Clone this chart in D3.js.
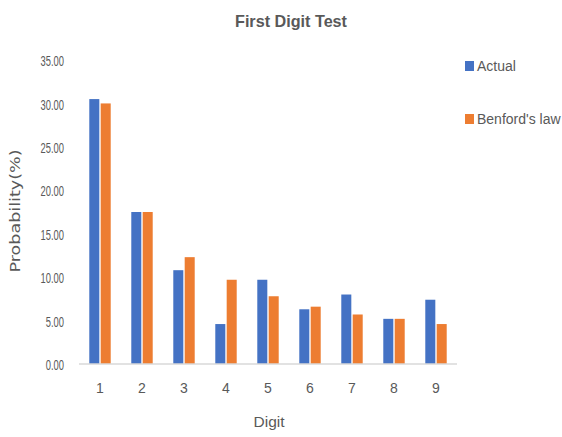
<!DOCTYPE html>
<html>
<head>
<meta charset="utf-8">
<script src="https://cdn.jsdelivr.net/npm/d3@7"></script>
<style>
  html, body { margin: 0; padding: 0; background: #fff; }
  svg { display: block; }
</style>
</head>
<body>
<svg id="chart" width="562" height="437"></svg>
<script>
const digits = ["1", "2", "3", "4", "5", "6", "7", "8", "9"];
const actual = [30.5, 17.5, 10.8, 4.6, 9.7, 6.3, 8.0, 5.2, 7.4];
const benford = [30.0, 17.5, 12.3, 9.7, 7.8, 6.6, 5.7, 5.2, 4.6];
const seriesNames = ["Actual", "Benford's law"];
const seriesColors = ["#4472C4", "#ED7D31"];
const yTicks = [0, 5, 10, 15, 20, 25, 30, 35];

const svg = d3.select("#chart");
const font = "'Liberation Sans Narrow', 'Liberation Sans', Arial, sans-serif";
const textColor = "#595959";

const margin = { left: 79, right: 105, top: 60, bottom: 73 };
const W = 562, H = 437;
const x0 = d3.scaleBand().domain(digits).range([margin.left, W - margin.right]).paddingInner(0.49).paddingOuter(0.245);
const x1 = d3.scaleBand().domain(seriesNames).range([0, x0.bandwidth()]).paddingInner(0.12);
const y = d3.scaleLinear().domain([0, 35]).range([H - margin.bottom, margin.top]);

// Bars
const data = digits.map((d, i) => ({ digit: d, values: [actual[i], benford[i]] }));
const groups = svg.append("g").selectAll("g").data(data).join("g")
  .attr("transform", d => `translate(${x0(d.digit)},0)`);
groups.selectAll("rect").data(d => d.values.map((v, j) => ({ v, j })))
  .join("rect")
  .attr("x", d => x1(seriesNames[d.j]))
  .attr("width", x1.bandwidth())
  .attr("y", d => y(d.v))
  .attr("height", d => y(0) - y(d.v))
  .attr("fill", d => seriesColors[d.j]);

// X axis
const xAxis = svg.append("g").attr("transform", `translate(0,${y(0)})`)
  .call(d3.axisBottom(x0).tickSize(0).tickPadding(19).tickSizeOuter(0));
xAxis.select(".domain").attr("stroke", "#d9d9d9").attr("stroke-width", 1.3)
  .attr("d", `M${margin.left},0H${W - margin.right}`);
xAxis.selectAll("text").attr("font-family", font).attr("font-size", 14).attr("fill", textColor);

// Y axis
const yAxis = svg.append("g").attr("transform", `translate(${margin.left - 15},0)`)
  .call(d3.axisLeft(y).tickValues(yTicks).tickFormat(d3.format(".2f")).tickSize(0).tickPadding(0));
yAxis.select(".domain").remove();
yAxis.selectAll("text").attr("font-family", font).attr("font-size", 14).attr("fill", textColor)
  .attr("dy", "0.4em").attr("transform", "scale(0.67,1)");

// Title
svg.append("text").attr("x", 291).attr("y", 27).attr("text-anchor", "middle")
  .attr("font-family", font).attr("font-size", 17).attr("font-weight", "bold")
  .attr("textLength", 112).attr("lengthAdjust", "spacingAndGlyphs")
  .attr("fill", textColor).text("First Digit Test");

// Axis titles
svg.append("text").attr("transform", `translate(20,211) rotate(-90)`)
  .attr("text-anchor", "middle").attr("font-family", "'DejaVu Sans', Verdana, sans-serif")
  .attr("font-size", 14).attr("textLength", 123).attr("lengthAdjust", "spacingAndGlyphs")
  .attr("fill", textColor).text("Probability(%)");
svg.append("text").attr("x", 269).attr("y", 427)
  .attr("text-anchor", "middle").attr("font-family", font).attr("font-size", 15)
  .attr("textLength", 31).attr("lengthAdjust", "spacingAndGlyphs")
  .attr("fill", textColor).text("Digit");

// Legend
const legend = svg.append("g").selectAll("g").data(seriesNames).join("g")
  .attr("transform", (d, i) => `translate(465,${61 + i * 53})`);
legend.append("rect").attr("width", 9).attr("height", 10).attr("fill", (d, i) => seriesColors[i]);
legend.append("text").attr("x", 12).attr("y", 10).attr("font-family", font).attr("font-size", 14)
  .attr("fill", textColor).text(d => d);
</script>
</body>
</html>
